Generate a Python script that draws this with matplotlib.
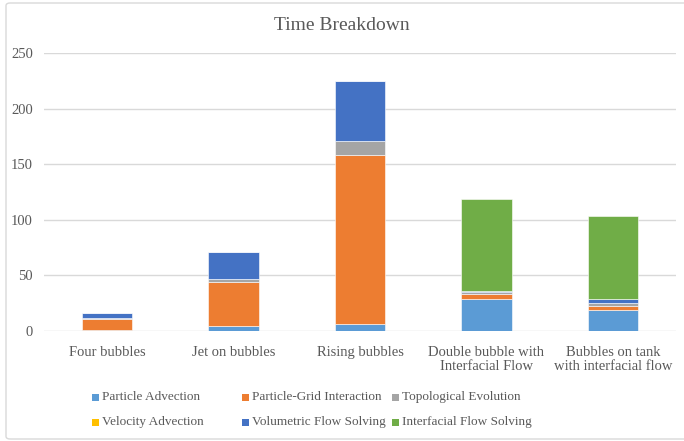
import matplotlib
matplotlib.use("Agg")
import matplotlib.pyplot as plt
from matplotlib.patches import Rectangle, FancyBboxPatch
import numpy as np

categories = ["Four bubbles", "Jet on bubbles", "Rising bubbles",
              "Double bubble with\nInterfacial Flow",
              "Bubbles on tank\nwith interfacial flow"]
series_names = ["Particle Advection", "Particle-Grid Interaction", "Topological Evolution",
                "Velocity Advection", "Volumetric Flow Solving", "Interfacial Flow Solving"]
particle_advection = [0.5, 4.8, 6.6, 28.8, 19.2]
particle_grid = [10.5, 39.6, 152.0, 4.2, 3.6]
topological = [1.0, 2.4, 12.3, 1.8, 2.1]
velocity_advection = [0.0, 0.0, 0.0, 0.0, 0.0]
volumetric = [4.5, 24.0, 54.0, 1.2, 4.1]
interfacial = [0.0, 0.0, 0.0, 82.7, 74.1]
colors = ["#5B9BD5", "#ED7D31", "#A5A5A5", "#FFC000", "#4472C4", "#70AD47"]
yticks = [0, 50, 100, 150, 200, 250]

plt.rcParams['font.family'] = ['Liberation Serif', 'DejaVu Serif']
text_color = "#595959"

fig = plt.figure(figsize=(6.84, 4.41), dpi=100)
W, H = 684, 441
# chart border
fig.patches.append(FancyBboxPatch((6 / W, 2 / H), 690 / W, 436 / H,
                                  boxstyle="round,pad=0,rounding_size=0.006",
                                  transform=fig.transFigure, fill=False,
                                  edgecolor="#D9D9D9", linewidth=1.0))

ax = fig.add_axes([44 / W, 1 - 331 / H, 632 / W, 278 / H])
x = np.arange(len(categories))
data = [particle_advection, particle_grid, topological, velocity_advection, volumetric, interfacial]
bottom = np.zeros(len(categories))
for vals, c in zip(data, colors):
    vals = np.array(vals)
    ax.bar(x, vals, 0.4, bottom=bottom, color=c, edgecolor="white", linewidth=0.4, zorder=3)
    bottom += vals

ax.set_xlim(-0.5, len(categories) - 0.5)
ax.set_ylim(0, 250)
ax.set_yticks(yticks)
ax.set_yticklabels([str(v) for v in yticks])
ax.set_xticks(x)
ax.set_xticklabels(categories, linespacing=1.15)
ax.grid(axis="y", color="#D9D9D9", linewidth=1.0, zorder=0)
ax.set_axisbelow(True)
for s in ax.spines.values():
    s.set_visible(False)
ax.tick_params(axis="both", length=0, labelsize=10.5, labelcolor=text_color)
ax.tick_params(axis="y", pad=8)
ax.tick_params(axis="x", pad=10.5)

fig.text(0.5, 1 - 25 / H, "Time Breakdown", ha="center", va="center",
         fontsize=14, color=text_color)

# legend, row-major layout
col_x = [92, 242, 392]
row_y = [397, 422]
for i, (name, c) in enumerate(zip(series_names, colors)):
    r, col = divmod(i, 3)
    xx, yy = col_x[col], row_y[r]
    fig.patches.append(Rectangle((xx / W, 1 - (yy + 3.5) / H), 7 / W, 7 / H,
                                 transform=fig.transFigure, facecolor=c, edgecolor="none"))
    fig.text((xx + 10) / W, 1 - yy / H, name, ha="left", va="center",
             fontsize=9.5, color=text_color)

fig.savefig("out.png", dpi=100)
